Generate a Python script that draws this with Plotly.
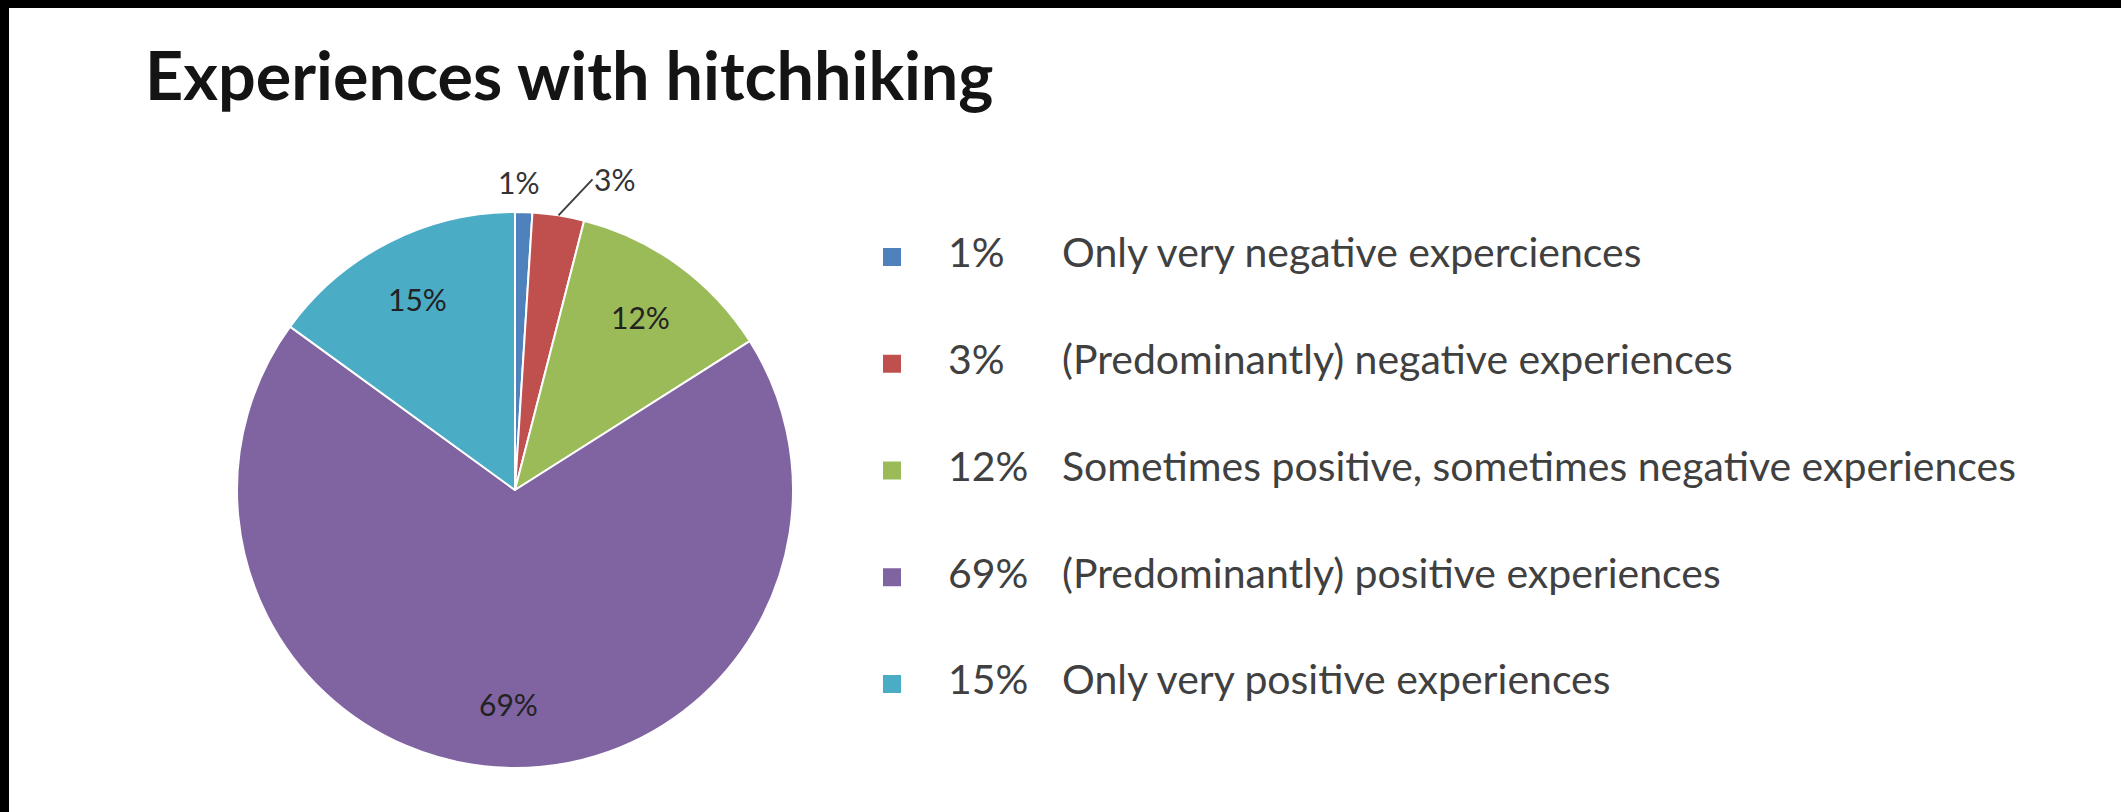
import math
import plotly.graph_objects as go

# ---- data ----
categories = [
    "Only very negative experciences",
    "(Predominantly) negative experiences",
    "Sometimes positive, sometimes negative experiences",
    "(Predominantly) positive experiences",
    "Only very positive experiences",
]
values = [1, 3, 12, 69, 15]
colors = ["#4F81BD", "#C0504D", "#9BBB59", "#8064A2", "#4BACC6"]
title_text = "Experiences with hitchhiking"

# ---- layout constants (pixels) ----
W, H = 2121, 812
FONT = "Lato"
cx, cy, R = 515, 490, 278          # pie centre / radius
row0, row_gap = 257, 106.75        # legend rows
sq_x, pct_x, lab_x = 892, 948, 1062


def px(x):
    return x / W


def py(y):
    return 1 - y / H


fig = go.Figure()

fig.add_trace(go.Pie(
    labels=categories,
    values=values,
    sort=False,
    direction="clockwise",
    rotation=0,
    marker=dict(colors=colors, line=dict(color="white", width=2)),
    textinfo="none",
    domain=dict(x=[px(cx - R), px(cx + R)], y=[py(cy + R), py(cy - R)]),
    showlegend=False,
    hoverinfo="skip",
    automargin=False,
))

# slice labels, placed from the data's cumulative angles
annotations = []
total = sum(values)
cum = 0
for v in values:
    theta = math.radians(360 * (cum + v / 2) / total)
    cum += v
    label = f"{v}%"
    if v < 2:
        r = 1.11 * R
        annotations.append(dict(
            x=px(cx + r * math.sin(theta)), y=py(cy - r * math.cos(theta)),
            xref="paper", yref="paper", text=label, showarrow=False,
            xanchor="center", yanchor="middle", xshift=-6,
            font=dict(family=FONT, size=30, color="#333333")))
    elif v < 5:
        ex, ey = cx + R * math.sin(theta), cy - R * math.cos(theta)
        annotations.append(dict(
            x=px(ex), y=py(ey), xref="paper", yref="paper",
            text=label, showarrow=True, arrowhead=0, arrowwidth=2,
            arrowcolor="#404040", ax=34, ay=-36, standoff=0,
            xanchor="left", yanchor="middle",
            font=dict(family=FONT, size=30, color="#333333")))
    else:
        r = 0.77 * R
        annotations.append(dict(
            x=px(cx + r * math.sin(theta)), y=py(cy - r * math.cos(theta)),
            xref="paper", yref="paper", text=label, showarrow=False,
            xanchor="center", yanchor="middle",
            font=dict(family=FONT, size=30, color="#222222")))

# legend drawn as scatter rows
rows = list(range(len(categories)))
pct_text = [f"{v}%" for v in values]

fig.add_trace(go.Scatter(
    x=[sq_x] * len(rows), y=rows, mode="markers",
    marker=dict(symbol="square", size=18, color=colors),
    showlegend=False, hoverinfo="skip",
))
fig.add_trace(go.Scatter(
    x=[pct_x] * len(rows), y=rows, mode="text", text=pct_text,
    textposition="middle right",
    textfont=dict(family=FONT, size=41, color="#404040"),
    showlegend=False, hoverinfo="skip",
))
fig.add_trace(go.Scatter(
    x=[lab_x] * len(rows), y=rows, mode="text", text=categories,
    textposition="middle right",
    textfont=dict(family=FONT, size=41, color="#404040"),
    showlegend=False, hoverinfo="skip",
))

fig.update_layout(
    width=W, height=H,
    margin=dict(l=0, r=0, t=0, b=0),
    paper_bgcolor="white",
    plot_bgcolor="rgba(0,0,0,0)",
    title=dict(
        text=title_text, x=px(145), xanchor="left", xref="paper",
        y=py(77), yanchor="middle", yref="paper",
        font=dict(family=FONT, size=66.5, color="#141414", weight="bold"),
    ),
    xaxis=dict(domain=[0, 1], range=[0, W], visible=False, fixedrange=True),
    yaxis=dict(domain=[0, 1], range=[(H - row0) / row_gap, -row0 / row_gap],
               visible=False, fixedrange=True),
    annotations=annotations,
    shapes=[
        dict(type="rect", xref="paper", yref="paper", x0=0, x1=9 / W, y0=0, y1=1,
             fillcolor="black", line=dict(width=0), layer="above"),
        dict(type="rect", xref="paper", yref="paper", x0=0, x1=1, y0=1 - 8 / H, y1=1,
             fillcolor="black", line=dict(width=0), layer="above"),
    ],
)

fig.write_html(
    "out.html",
    config={"displayModeBar": False},
    post_script=(
        "document.body.style.margin='0';"
        "document.body.style.overflow='hidden';"
        "document.documentElement.style.overflow='hidden';"
    ),
)
